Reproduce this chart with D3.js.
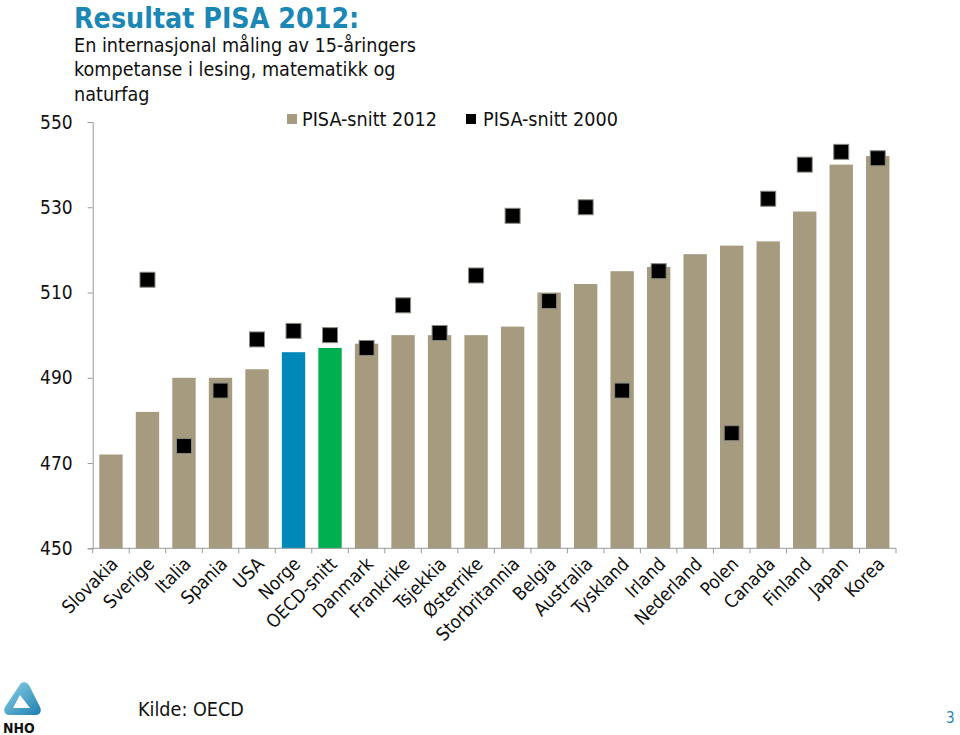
<!DOCTYPE html>
<html><head><meta charset="utf-8">
<script src="https://cdn.jsdelivr.net/npm/d3@7"></script>
<style>
body{margin:0;background:#fff;}
text{font-family:"DejaVu Sans Condensed","DejaVu Sans",sans-serif;}
</style></head>
<body><svg id="c" width="960" height="735"></svg>
<script>
const categories = ["Slovakia","Sverige","Italia","Spania","USA","Norge","OECD-snitt","Danmark","Frankrike","Tsjekkia","Østerrike","Storbritannia","Belgia","Australia","Tyskland","Irland","Nederland","Polen","Canada","Finland","Japan","Korea"];
const pisa2012 = [472,482,490,490,492,496,497,498,500,500,500,502,510,512,515,516,519,521,522,529,540,542];
const pisa2000 = [null,513,474,487,499,501,500,497,507,500.5,514,528,508,530,487,515,null,477,532,540,543,541.5];
const yTicks = [450,470,490,510,530,550];
const seriesNames = ["PISA-snitt 2012","PISA-snitt 2000"];

const svg = d3.select("#c");
const x = d3.scaleBand().domain(categories).range([92.7,896]).paddingInner(0.36).paddingOuter(0.18);
const y = d3.scaleLinear().domain([450,550]).range([548.3,122]);

const barColor = d => d==="Norge" ? "#0088B9" : d==="OECD-snitt" ? "#00B050" : "#A69A7F";

// Title
svg.append("text").attr("x",74).attr("y",28).attr("fill","#1A87B5").attr("font-weight","bold")
  .attr("font-size",28.3).text("Resultat PISA 2012:");
const sub = ["En internasjonal måling av 15-åringers","kompetanse i lesing, matematikk og","naturfag"];
sub.forEach((s,i)=>svg.append("text").attr("x",74).attr("y",51.5+i*24.5).attr("font-size",19.6).attr("fill","#111").text(s));

// Axes
const yAxis = svg.append("g").attr("transform","translate(92.7,0)")
  .call(d3.axisLeft(y).tickValues(yTicks).tickSize(5).tickPadding(15));
yAxis.select(".domain").attr("stroke","#999");
yAxis.selectAll(".tick line").attr("stroke","#999");
yAxis.selectAll(".tick text").attr("font-size",19).attr("fill","#111").attr("font-family","DejaVu Sans Condensed, DejaVu Sans");

// Bars
svg.append("g").selectAll("rect").data(categories).join("rect")
  .attr("x",d=>x(d)).attr("width",x.bandwidth())
  .attr("y",(d,i)=>y(pisa2012[i])).attr("height",(d,i)=>y(450)-y(pisa2012[i]))
  .attr("fill",barColor);

// x axis
const xg = svg.append("g").attr("transform","translate(0,548.3)");
xg.append("line").attr("x1",92.7).attr("x2",896).attr("stroke","#999");
const bounds = d3.range(categories.length+1).map(i=>92.7+i*(896-92.7)/categories.length);
xg.selectAll("line.t").data(bounds).join("line").attr("class","t")
  .attr("x1",d=>d).attr("x2",d=>d).attr("y1",0).attr("y2",5).attr("stroke","#999");
xg.selectAll("text").data(categories).join("text")
  .attr("transform",d=>`translate(${x(d)+x.bandwidth()/2+8},${17}) rotate(-45)`)
  .attr("text-anchor","end").attr("font-size",18.5).attr("fill","#111").text(d=>d);

// Markers
const ms = 15;
svg.append("g").selectAll("rect").data(categories.map((c,i)=>({c,v:pisa2000[i]})).filter(d=>d.v!=null)).join("rect")
  .attr("x",d=>x(d.c)+x.bandwidth()/2-ms/2).attr("y",d=>y(d.v)-ms/2)
  .attr("width",ms).attr("height",ms).attr("fill","#000").attr("stroke","#8a8a80").attr("stroke-width",1);

// Legend
const lg = svg.append("g");
lg.append("rect").attr("x",287).attr("y",114).attr("width",10).attr("height",10).attr("fill","#A69A7F");
lg.append("text").attr("x",302).attr("y",126).attr("font-size",19.6).attr("fill","#111").text(seriesNames[0]);
lg.append("rect").attr("x",466).attr("y",114).attr("width",10).attr("height",10).attr("fill","#000");
lg.append("text").attr("x",483).attr("y",126).attr("font-size",19.6).attr("fill","#111").text(seriesNames[1]);

// Source
svg.append("text").attr("x",138).attr("y",716).attr("font-size",19.6).attr("fill","#111").text("Kilde: OECD");
svg.append("text").attr("x",946).attr("y",723).attr("font-size",15).attr("fill","#1A87B5").text("3");

// Logo
const defs = svg.append("defs");
const gr = defs.append("linearGradient").attr("id","lg1").attr("x1","0").attr("y1","0").attr("x2","1").attr("y2","1");
gr.append("stop").attr("offset","0").attr("stop-color","#8fd3ea");
gr.append("stop").attr("offset","1").attr("stop-color","#1d7fae");
const logo = svg.append("g").attr("transform","translate(3,682)");
logo.append("path").attr("d","M18,1 C22,-1 25,1 27,5 L37,25 C39,29 37,33 33,33 L6,33 C2,33 0,29 2,25 Z M17,13 L10,26 L27,26 Z")
  .attr("fill","url(#lg1)").attr("fill-rule","evenodd");
logo.append("text").attr("x",0).attr("y",51).attr("font-size",14).attr("font-weight","bold").attr("fill","#111")
  .attr("font-family","Liberation Sans, Arial").text("NHO");
</script></body></html>
